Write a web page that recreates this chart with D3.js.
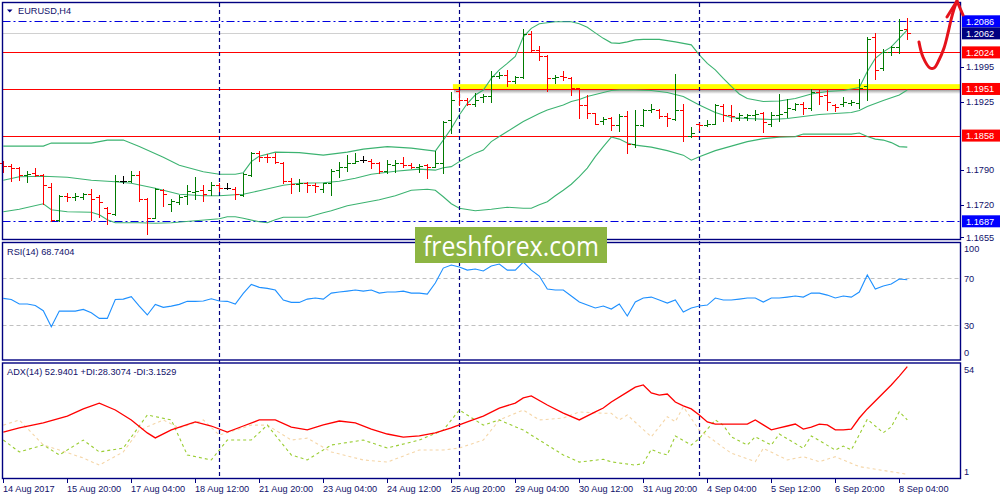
<!DOCTYPE html>
<html><head><meta charset="utf-8">
<script src="https://cdn.jsdelivr.net/npm/d3@7"></script>
<style>html,body{margin:0;padding:0;background:#fff;}svg{display:block;}text{font-family:"Liberation Sans",Arial,sans-serif;}</style>
</head><body><svg id="c" width="1000" height="500"></svg>
<script>
// ---------- DATA ----------
const symbolTitle = "EURUSD,H4";
const opens = [1.1803,1.1798,1.1793,1.1779,1.1783,1.1779,1.1755,1.1690,1.1738,1.1736,1.1736,1.1742,1.1736,1.1713,1.1702,1.1768,1.1768,1.1779,1.1732,1.1693,
1.1749,1.1722,1.1726,1.1738,1.1746,1.1749,1.1749,1.1759,1.1753,1.1751,1.1740,1.1779,1.1824,1.1816,1.1815,1.1804,1.1768,1.1761,1.1763,1.1759,
1.1751,1.1764,1.1789,1.1796,1.1803,1.1809,1.1808,1.1803,1.1788,1.1799,1.1804,1.1799,1.1795,1.1799,1.1796,1.1804,1.1889,1.1946,1.1929,1.1921,
1.1934,1.1936,1.1977,1.1979,1.1966,1.1974,1.2061,1.2029,1.2017,1.1972,1.1977,1.1972,1.1952,1.1919,1.1904,1.1888,1.1894,1.1879,1.1897,1.1841,
1.1879,1.1909,1.1910,1.1897,1.1892,1.1909,1.1857,1.1882,1.1879,1.1881,1.1917,1.1899,1.1894,1.1896,1.1899,1.1904,1.1882,1.1899,1.1906,1.1912,
1.1921,1.1914,1.1944,1.1939,1.1919,1.1922,1.1924,1.1924,1.1956,1.2054,1.1992,1.2025,1.2034,1.2070];
const highs = [1.1807,1.1801,1.1795,1.1788,1.1793,1.1781,1.1764,1.1740,1.1743,1.1744,1.1744,1.1752,1.1740,1.1716,1.1779,1.1777,1.1788,1.1788,1.1733,1.1753,
1.1751,1.1731,1.1740,1.1759,1.1775,1.1759,1.1766,1.1763,1.1764,1.1755,1.1783,1.1826,1.1827,1.1821,1.1824,1.1806,1.1773,1.1771,1.1766,1.1764,
1.1764,1.1791,1.1806,1.1819,1.1824,1.1817,1.1811,1.1806,1.1809,1.1809,1.1816,1.1803,1.1801,1.1801,1.1828,1.1888,1.1944,1.1949,1.1932,1.1942,
1.1941,1.1986,1.1984,1.1988,1.1976,1.2070,1.2067,1.2037,1.2019,1.1979,1.1986,1.1974,1.1952,1.1939,1.1904,1.1896,1.1896,1.1902,1.1908,1.1909,
1.1912,1.1922,1.1912,1.1904,1.1981,1.1921,1.1875,1.1884,1.1890,1.1921,1.1922,1.1919,1.1904,1.1902,1.1910,1.1906,1.1906,1.1941,1.1930,1.1924,
1.1926,1.1950,1.1949,1.1949,1.1921,1.1934,1.1928,1.1970,1.2054,1.2062,1.2030,1.2037,1.2090,1.2092];
const lows = [1.1786,1.1768,1.1769,1.1766,1.1777,1.1722,1.1688,1.1688,1.1727,1.1730,1.1731,1.1690,1.1696,1.1682,1.1700,1.1764,1.1766,1.1728,1.1661,1.1693,
1.1718,1.1708,1.1722,1.1722,1.1731,1.1728,1.1740,1.1748,1.1751,1.1731,1.1738,1.1777,1.1808,1.1806,1.1803,1.1764,1.1744,1.1748,1.1746,1.1746,
1.1746,1.1740,1.1775,1.1788,1.1803,1.1806,1.1793,1.1783,1.1784,1.1786,1.1796,1.1793,1.1786,1.1773,1.1795,1.1784,1.1863,1.1919,1.1919,1.1917,
1.1926,1.1926,1.1972,1.1956,1.1962,1.1972,1.2027,1.2008,1.1946,1.1962,1.1969,1.1939,1.1894,1.1894,1.1881,1.1882,1.1869,1.1868,1.1823,1.1836,
1.1877,1.1906,1.1894,1.1877,1.1889,1.1848,1.1856,1.1869,1.1877,1.1881,1.1888,1.1888,1.1890,1.1890,1.1890,1.1866,1.1877,1.1888,1.1896,1.1909,
1.1902,1.1910,1.1921,1.1910,1.1908,1.1917,1.1919,1.1914,1.1929,1.1970,1.1989,1.2019,1.2022,1.2050];
const closes = [1.1798,1.1793,1.1779,1.1781,1.1779,1.1759,1.1690,1.1738,1.1735,1.1738,1.1742,1.1731,1.1726,1.1703,1.1768,1.1768,1.1779,1.1732,1.1693,1.1751,
1.1742,1.1728,1.1736,1.1748,1.1748,1.1742,1.1759,1.1753,1.1753,1.1742,1.1781,1.1824,1.1816,1.1815,1.1806,1.1768,1.1761,1.1763,1.1759,1.1757,
1.1763,1.1788,1.1796,1.1803,1.1808,1.1809,1.1803,1.1788,1.1801,1.1803,1.1799,1.1796,1.1797,1.1796,1.1804,1.1886,1.1929,1.1929,1.1921,1.1929,
1.1936,1.1977,1.1979,1.1966,1.1974,1.2061,1.2029,1.2017,1.1972,1.1974,1.1974,1.1952,1.1919,1.1904,1.1882,1.1892,1.1879,1.1897,1.1841,1.1879,
1.1910,1.1912,1.1897,1.1894,1.1909,1.1857,1.1863,1.1879,1.1881,1.1919,1.1899,1.1897,1.1899,1.1899,1.1902,1.1886,1.1899,1.1902,1.1914,1.1921,
1.1914,1.1944,1.1936,1.1926,1.1916,1.1926,1.1925,1.1952,1.2050,1.1989,1.2025,1.2034,1.2069,1.2062];

// Bollinger bands, read at [bar index, price]
const bbUpper = [[0,1.1837],[5,1.1837],[6,1.1843],[11,1.1843],[13,1.1849],[15,1.1849],[17,1.1836],[20,1.1815],[22,1.1799],[25,1.1786],[27,1.1781],[29,1.1781],[30,1.1784],[31,1.1806],[32,1.1817],[34,1.1825],[37,1.1824],[40,1.1819],[43,1.1825],[45,1.1831],[48,1.1836],[51,1.1833],[54,1.1827],[55,1.1849],[56,1.1872],[57,1.1899],[58,1.1922],[59,1.1939],[60,1.1949],[61,1.1972],[62,1.1989],[63,1.2002],[64,1.2016],[65,1.2055],[66,1.2072],[67,1.2081],[68,1.2083],[69,1.2085],[70,1.2085],[71,1.2085],[72,1.2081],[73,1.2074],[74,1.2063],[75,1.2052],[76,1.2043],[77,1.2042],[78,1.2045],[79,1.2049],[80,1.2050],[82,1.2050],[84,1.2045],[86,1.2039],[87,1.2019],[88,1.2002],[89,1.1989],[90,1.1972],[91,1.1956],[92,1.1941],[93,1.1932],[95,1.1926],[97,1.1927],[99,1.1932],[101,1.1941],[103,1.1946],[105,1.1948],[107,1.1954],[108,1.1986],[109,1.2012],[110,1.2025],[111,1.2035],[112,1.2052],[113,1.2069]];
const bbMiddle = [[0,1.1769],[2,1.1776],[5,1.1777],[8,1.1775],[11,1.1769],[14,1.1766],[16,1.1763],[19,1.1753],[22,1.1741],[25,1.1738],[27,1.1738],[30,1.1741],[32,1.1748],[35,1.1759],[37,1.1763],[40,1.1764],[42,1.1767],[44,1.1773],[46,1.1781],[49,1.1787],[52,1.1791],[54,1.1789],[55,1.1794],[56,1.1796],[57,1.1806],[58,1.1815],[59,1.1823],[60,1.1829],[61,1.1846],[62,1.1856],[63,1.1866],[64,1.1876],[65,1.1886],[66,1.1894],[67,1.1902],[68,1.1909],[69,1.1914],[70,1.1919],[71,1.1926],[72,1.1930],[73,1.1936],[74,1.1940],[75,1.1944],[76,1.1948],[77,1.1949],[79,1.1949],[81,1.1948],[83,1.1944],[85,1.1936],[87,1.1919],[89,1.1904],[91,1.1894],[93,1.1892],[96,1.1890],[98,1.1892],[100,1.1896],[102,1.1900],[104,1.1902],[106,1.1904],[107,1.1908],[108,1.1916],[110,1.1928],[112,1.1939],[113,1.1949]];
const bbLower = [[0,1.1706],[2,1.1711],[5,1.1722],[6,1.1710],[8,1.1706],[11,1.1705],[12,1.1700],[13,1.1690],[14,1.1684],[17,1.1684],[19,1.1683],[21,1.1684],[24,1.1688],[27,1.1692],[28,1.1696],[29,1.1696],[30,1.1693],[32,1.1686],[33,1.1684],[34,1.1690],[35,1.1695],[38,1.1695],[40,1.1704],[41,1.1708],[43,1.1718],[45,1.1724],[47,1.1730],[49,1.1738],[51,1.1749],[53,1.1751],[54,1.1749],[55,1.1736],[56,1.1722],[57,1.1713],[59,1.1708],[61,1.1711],[63,1.1715],[65,1.1713],[66,1.1713],[67,1.1720],[68,1.1726],[69,1.1738],[70,1.1749],[71,1.1761],[72,1.1776],[73,1.1793],[74,1.1816],[75,1.1836],[76,1.1855],[77,1.1851],[78,1.1843],[79,1.1839],[81,1.1835],[83,1.1828],[85,1.1819],[86,1.1809],[87,1.1816],[89,1.1828],[91,1.1837],[93,1.1846],[95,1.1852],[97,1.1855],[99,1.1856],[100,1.1861],[103,1.1861],[106,1.1861],[107,1.1863],[108,1.1856],[109,1.1851],[110,1.1849],[111,1.1844],[112,1.1836],[113,1.1835]];

const rsi = [52.9,52.0,48.1,48.1,46.9,42.4,28.8,42.1,42.1,42.1,43.5,40.7,35.9,35.9,52.0,52.3,54.3,46.3,38.8,47.8,
45.3,46.3,47.8,50.4,50.4,50.7,52.6,50.7,50.4,48.1,57.1,64.8,62.3,61.4,60.0,51.5,49.5,49.5,52.3,53.2,
52.3,57.4,58.3,59.1,60.0,59.1,60.0,57.4,58.3,58.3,59.1,57.4,57.4,56.6,66.0,78.7,81.3,79.6,77.0,77.9,
76.2,80.4,82.1,77.0,77.0,83.8,77.0,71.9,60.9,60.0,60.0,54.9,49.8,47.2,44.7,46.4,43.8,48.1,37.9,49.8,
53.2,54.0,51.5,48.9,51.5,41.3,44.7,46.4,47.2,53.2,51.5,51.5,52.3,53.2,53.2,49.8,53.2,53.2,54.0,54.9,
54.0,57.4,57.4,55.7,53.2,54.9,54.0,58.3,72.8,60.9,63.4,65.1,69.4,68.7404];

const adx = [[0,22.7],[2,24.6],[5,26.9],[8,30.1],[10,33.4],[12,36.1],[14,32.9],[16,28.3],[18,22.3],[19,20.0],[21,23.7],[24,27.4],[26,25.5],[28,22.7],[30,25.5],[32,28.3],[34,28.3],[36,25.0],[38,23.7],[40,26.0],[42,27.8],[44,26.9],[46,24.1],[48,21.8],[50,20.4],[52,20.9],[54,22.3],[56,24.6],[58,27.4],[60,30.1],[62,33.8],[64,36.1],[65,38.5],[66,39.4],[68,35.2],[70,31.5],[72,28.3],[74,32.0],[75,33.8],[76,36.6],[78,41.2],[79,43.5],[80,44.5],[81,40.8],[82,39.8],[83,40.3],[84,36.6],[85,34.8],[86,33.4],[87,30.6],[88,27.4],[89,26.4],[93,26.4],[94,28.3],[95,26.0],[96,23.7],[97,24.6],[98,25.5],[99,26.4],[100,24.1],[101,25.0],[102,26.4],[103,26.0],[104,23.7],[105,23.7],[106,24.1],[107,29.2],[108,33.4],[109,37.1],[110,40.8],[111,44.5],[112,48.6],[113,52.9401]];
const plusDI = [[0,19.0],[2,13.5],[5,16.7],[7,12.1],[10,19.0],[12,13.5],[15,15.3],[18,30.6],[21,28.3],[23,12.1],[26,9.8],[28,19.0],[31,19.0],[33,25.9],[36,12.1],[38,9.8],[41,16.7],[45,19.0],[48,15.3],[52,19.0],[55,23.6],[57,32.9],[60,25.9],[62,28.3],[65,23.6],[67,19.0],[70,12.1],[72,8.8],[75,10.1],[76,8.9],[79,7.4],[80,8.2],[81,14.7],[82,13.1],[83,12.1],[84,20.9],[86,16.7],[87,19.7],[89,28.3],[90,25.9],[91,20.5],[93,16.7],[94,20.5],[96,16.7],[97,21.8],[100,15.2],[101,20.9],[104,14.4],[105,16.2],[106,14.4],[108,28.6],[110,22.4],[111,25.1],[112,32.1],[113,28.3074]];
const minusDI = [[0,25.9],[2,28.3],[5,16.7],[7,14.4],[10,10.7],[12,7.4],[15,13.5],[17,23.6],[20,28.3],[22,24.6],[25,28.3],[27,21.3],[31,25.9],[33,25.9],[36,19.0],[38,19.9],[41,13.5],[45,9.8],[48,8.8],[52,14.4],[55,14.4],[57,15.3],[60,19.0],[62,28.3],[65,32.9],[67,28.3],[70,29.2],[72,32.0],[75,31.4],[76,31.4],[77,28.3],[78,30.6],[81,20.5],[83,29.8],[84,27.5],[85,34.4],[87,23.6],[91,12.9],[94,9.0],[95,15.2],[98,9.8],[100,11.3],[102,9.0],[104,11.3],[107,6.7],[113,3.1529]];

const timeLabelBars = [0,8,16,24,32,40,48,56,64,72,80,88,96,104,112];
const timeLabels = ["14 Aug 2017","15 Aug 20:00","17 Aug 04:00","18 Aug 12:00","21 Aug 20:00","23 Aug 04:00","24 Aug 12:00","25 Aug 20:00","29 Aug 04:00","30 Aug 12:00","31 Aug 20:00","4 Sep 04:00","5 Sep 12:00","6 Sep 20:00","8 Sep 04:00"];
const weekStartBars = [27,57,87];
const priceTicks = [1.1995,1.1925,1.1790,1.1720,1.1655];
const levelPrices = [1.2086,1.2062,1.2024,1.1951,1.1858,1.1687];
const levelKinds = ["dashdot","bid","red","red","red","dashdot"];
const rsiLevels = [70,30];
const rsiTicks = [100,70,30,0];
const adxTicks = [54,1];
const zonePrice = 1.1951, zoneStartBar = 56.2;
const arrowPath = [[114.46,1.20447],[114.96,1.20148],[115.84,1.19928],[116.34,1.19928],[116.96,1.20088],[117.59,1.20327],[118.09,1.20627],[118.46,1.20886],[118.84,1.21105],[119.21,1.21265]];
const arrowHead = [[117.96,1.20946],[119.21,1.21265],[119.96,1.20986]];

// ---------- DRAW ----------
const svg = d3.select("#c");
const NAVY = "#000080", TXT = "#10106a";
const L = 2.5, R = 960.5;
const P = {main:[2.5,239.5], rsi:[242.5,360], adx:[363,478.5]};
const x = d3.scaleLinear().domain([0,113]).range([3.3,907.3]);
const yP = d3.scaleLinear().domain([1.1687,1.2086]).range([221.3,21.3]);
const yR = d3.scaleLinear().domain([30,70]).range([325.3,278.3]);
const yA = d3.scaleLinear().domain([3.1529,52.9401]).range([474.3,366.7]);
const px = v => Math.round(v)+0.5;
const fs = 9.2;

svg.append("rect").attr("width",1000).attr("height",500).attr("fill","#fff");

const defs = svg.append("defs");
const g1 = defs.append("linearGradient").attr("id","shad").attr("x1",0).attr("y1",0).attr("x2",0).attr("y2",1);
g1.append("stop").attr("offset","0").attr("stop-color","#000").attr("stop-opacity",0.45);
g1.append("stop").attr("offset","1").attr("stop-color","#000").attr("stop-opacity",0);

// horizontal levels (main)
const mainG = svg.append("g");
// yellow zone
const zy = yP(zonePrice);
mainG.append("rect").attr("x",x(zoneStartBar)).attr("y",zy-4.8).attr("width",R-x(zoneStartBar)).attr("height",4.8).attr("fill","#ffff00");
mainG.append("rect").attr("x",x(zoneStartBar)+1).attr("y",zy).attr("width",R-x(zoneStartBar)-1).attr("height",5).attr("fill","url(#shad)");

levelPrices.forEach((p,k)=>{
  const kind = levelKinds[k];
  const ln = mainG.append("line").attr("x1",L).attr("x2",R).attr("y1",px(yP(p))).attr("y2",px(yP(p)));
  if(kind==="dashdot") ln.attr("stroke","#0000e0").attr("stroke-width",1.2).attr("stroke-dasharray","8,3,2,3");
  else if(kind==="bid") ln.attr("stroke","#d0d0d0").attr("stroke-width",1);
  else ln.attr("stroke","#ff0000").attr("stroke-width",1.2);
});

// RSI level lines
rsiLevels.forEach(v=>{
  svg.append("line").attr("x1",L).attr("x2",R).attr("y1",px(yR(v))).attr("y2",px(yR(v)))
    .attr("stroke","#c0c0c0").attr("stroke-dasharray","4,3");
});

// week separators
weekStartBars.forEach(b=>{
  svg.append("line").attr("x1",px(x(b))).attr("x2",px(x(b))).attr("y1",3).attr("y2",478)
    .attr("stroke",NAVY).attr("stroke-width",1.2).attr("stroke-dasharray","4,3");
});

// Bollinger bands
const bbLine = d3.line().x(d=>x(d[0])).y(d=>yP(d[1]));
[bbUpper,bbMiddle,bbLower].forEach(s=>{
  mainG.append("path").attr("d",bbLine(s)).attr("fill","none").attr("stroke","#3cb371").attr("stroke-width",1.1);
});

// OHLC bars
const barG = svg.append("g").attr("shape-rendering","crispEdges");
opens.forEach((o,i)=>{
  const c = closes[i];
  const col = c>o ? "#007a00" : (c<o ? "#ff0000" : "#000000");
  const bx = px(x(i));
  const d = `M${bx},${Math.round(yP(highs[i]))}V${Math.round(yP(lows[i]))+1}`+
            `M${bx-3.5},${px(yP(o))}H${bx}M${bx},${px(yP(c))}H${bx+3.5}`;
  barG.append("path").attr("d",d).attr("stroke",col).attr("stroke-width",1.3).attr("fill","none");
});

// RSI line
svg.append("path").attr("d",d3.line().x((d,i)=>x(i)).y(d=>yR(d))(rsi))
  .attr("fill","none").attr("stroke","#1e90ff").attr("stroke-width",1.1);

// ADX lines
const aLine = d3.line().x(d=>x(d[0])).y(d=>yA(d[1]));
svg.append("path").attr("d",aLine(minusDI)).attr("fill","none").attr("stroke","#f5d6a8").attr("stroke-width",1.1).attr("stroke-dasharray","3,3");
svg.append("path").attr("d",aLine(plusDI)).attr("fill","none").attr("stroke","#9acd32").attr("stroke-width",1.1).attr("stroke-dasharray","3,3");
svg.append("path").attr("d",aLine(adx)).attr("fill","none").attr("stroke","#ff0000").attr("stroke-width",1.3);

// panel frames
Object.values(P).forEach(([t,b])=>{
  svg.append("rect").attr("x",L).attr("y",t).attr("width",R-L).attr("height",b-t)
    .attr("fill","none").attr("stroke",NAVY).attr("stroke-width",1.4);
});

// watermark
svg.append("rect").attr("x",415).attr("y",227).attr("width",192).attr("height",36).attr("fill","#8db543");
svg.append("text").attr("x",511).attr("y",256).attr("text-anchor","middle")
  .style("font-family","'Open Sans',sans-serif").attr("font-size",27).attr("fill","#fff")
  .attr("textLength",176).attr("lengthAdjust","spacingAndGlyphs").text("freshforex.com");

// title & indicator labels
svg.append("path").attr("d","M7,9.5 L12.5,9.5 L9.75,12.5 Z").attr("fill",NAVY);
svg.append("text").attr("x",18).attr("y",14.2).attr("font-size",fs).attr("fill",TXT).text(symbolTitle);
svg.append("text").attr("x",7).attr("y",255).attr("font-size",fs).attr("fill",TXT).text("RSI(14) " + rsi[rsi.length-1].toFixed(4));
svg.append("text").attr("x",7).attr("y",375).attr("font-size",fs).attr("fill",TXT)
  .text("ADX(14) " + adx[adx.length-1][1].toFixed(4) + " +DI:" + plusDI[plusDI.length-1][1].toFixed(4) + " -DI:" + minusDI[minusDI.length-1][1].toFixed(4));

// right price axis
priceTicks.forEach(v=>{
  const yy = yP(v);
  svg.append("line").attr("x1",961).attr("x2",964).attr("y1",px(yy)).attr("y2",px(yy)).attr("stroke",NAVY);
  svg.append("text").attr("x",966).attr("y",yy+3.3).attr("font-size",fs).attr("fill",TXT).text(v.toFixed(4));
});
levelPrices.forEach((p,k)=>{
  const kind = levelKinds[k];
  const bg = kind==="dashdot" ? "#0000ff" : (kind==="bid" ? "#000080" : "#ff0000");
  const yy = yP(p);
  svg.append("rect").attr("x",962).attr("y",yy-6).attr("width",38).attr("height",12).attr("fill",bg);
  svg.append("text").attr("x",966).attr("y",yy+3.3).attr("font-size",fs).attr("fill","#fff").text(p.toFixed(4));
});
// RSI axis
const clampY = (v,t,b)=>Math.max(t+6.5,Math.min(b-7,v));
rsiTicks.forEach(v=>{
  const yy = clampY(yR(v),P.rsi[0],P.rsi[1]);
  svg.append("text").attr("x",964).attr("y",yy+3.3).attr("font-size",fs).attr("fill",TXT).text(v);
});
adxTicks.forEach(v=>{
  const yy = clampY(yA(v),P.adx[0],P.adx[1]);
  svg.append("text").attr("x",964).attr("y",yy+3.3).attr("font-size",fs).attr("fill",TXT).text(v);
});

// time axis
timeLabelBars.forEach((b,k)=>{
  const xx = px(x(b));
  svg.append("line").attr("x1",xx).attr("x2",xx).attr("y1",479).attr("y2",483).attr("stroke",NAVY);
  svg.append("text").attr("x",xx-0.5).attr("y",491.5).attr("font-size",fs).attr("fill",TXT).text(timeLabels[k]);
});

// hand-drawn arrow annotation
const arr = d3.line().x(d=>x(d[0])).y(d=>yP(d[1])).curve(d3.curveCatmullRom);
svg.append("path").attr("d",arr(arrowPath)).attr("fill","none").attr("stroke","#e5121b").attr("stroke-width",3).attr("stroke-linecap","round");
svg.append("path").attr("d",d3.line().x(d=>x(d[0])).y(d=>yP(d[1]))(arrowHead)).attr("fill","none").attr("stroke","#e5121b").attr("stroke-width",3).attr("stroke-linecap","round").attr("stroke-linejoin","round");
</script></body></html>
